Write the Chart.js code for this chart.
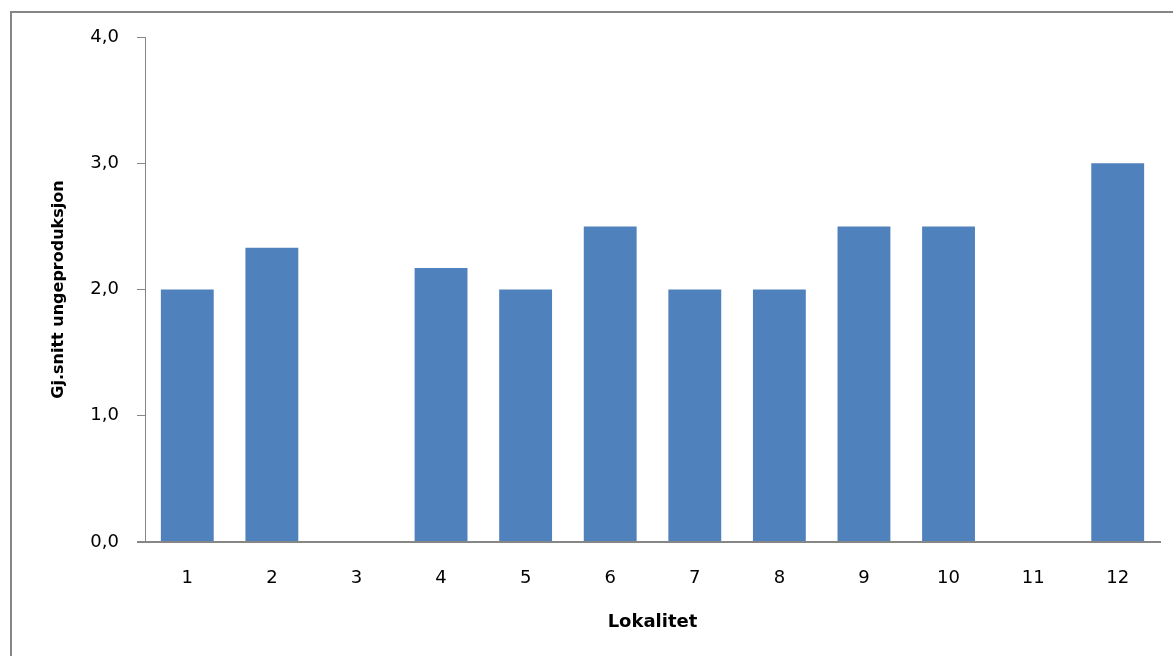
<!DOCTYPE html>
<html>
<head>
<meta charset="utf-8">
<script src="https://cdn.jsdelivr.net/npm/chart.js@4/dist/chart.umd.min.js"></script>
<style>
  html, body { margin: 0; padding: 0; background: #ffffff; }
  #wrap { width: 1173px; height: 656px; position: relative; }
</style>
</head>
<body>
<div id="wrap"><canvas id="c" width="1173" height="656"></canvas></div>
<script>
// Gjennomsnittlig ungeproduksjon per lokalitet
const lokaliteter = ['1', '2', '3', '4', '5', '6', '7', '8', '9', '10', '11', '12'];
const ungeproduksjon = [2.0, 2.33, 0, 2.17, 2.0, 2.5, 2.0, 2.0, 2.5, 2.5, 0, 3.0];
const yTicks = [0, 1, 2, 3, 4];

const axisGrey = '#868686';
const tickFont = { family: 'DejaVu Sans', size: 18 };

// Outer frame around the chart area
const framePlugin = {
  id: 'frame',
  beforeDraw(chart) {
    const ctx = chart.ctx;
    ctx.save();
    ctx.strokeStyle = axisGrey;
    ctx.lineWidth = 2;
    ctx.strokeRect(11, 12, chart.width + 20, chart.height + 20);
    ctx.restore();
  }
};

// Extends the category axis line a little to the left of the value axis
const baselinePlugin = {
  id: 'baseline',
  afterDraw(chart) {
    const x = chart.scales.x, y = chart.scales.y;
    const yy = y.getPixelForValue(0);
    const ctx = chart.ctx;
    ctx.save();
    ctx.strokeStyle = axisGrey;
    ctx.lineWidth = 2;
    ctx.beginPath();
    ctx.moveTo(x.left - 8, yy);
    ctx.lineTo(x.right, yy);
    ctx.stroke();
    ctx.restore();
  }
};

new Chart(document.getElementById('c'), {
  type: 'bar',
  data: {
    labels: lokaliteter,
    datasets: [{
      data: ungeproduksjon,
      backgroundColor: '#4F81BD',
      borderWidth: 0,
      categoryPercentage: 1.0,
      barPercentage: 0.625
    }]
  },
  options: {
    responsive: false,
    animation: false,
    layout: { padding: { top: 37, right: 13, left: 0, bottom: 0 } },
    plugins: {
      legend: { display: false },
      tooltip: { enabled: false }
    },
    scales: {
      x: {
        grid: { display: false, drawTicks: false },
        border: { display: true, color: axisGrey, width: 2 },
        ticks: { font: tickFont, color: '#000', padding: 26, maxRotation: 0 },
        title: {
          display: true,
          text: 'Lokalitet',
          color: '#000',
          font: { family: 'DejaVu Sans', size: 18, weight: 'bold', lineHeight: 1.2 },
          padding: { top: 0, bottom: 23 }
        },
        afterFit(scale) { scale.height = 114; }
      },
      y: {
        min: 0,
        max: 4,
        afterBuildTicks(scale) { scale.ticks = yTicks.map(v => ({ value: v })); },
        grid: { drawOnChartArea: false, drawTicks: true, tickLength: 8, color: axisGrey },
        border: { display: true, color: axisGrey, width: 1 },
        ticks: {
          font: tickFont,
          color: '#000',
          padding: 18,
          callback: v => Number(v).toFixed(1).replace('.', ',')
        },
        title: {
          display: true,
          text: 'Gj.snitt ungeproduksjon',
          color: '#000',
          font: { family: 'DejaVu Sans', size: 16, weight: 'bold', lineHeight: 1.2 },
          padding: { top: 49, bottom: 0 }
        },
        afterFit(scale) { scale.width = 145; }
      }
    }
  },
  plugins: [framePlugin, baselinePlugin]
});
</script>
</body>
</html>
